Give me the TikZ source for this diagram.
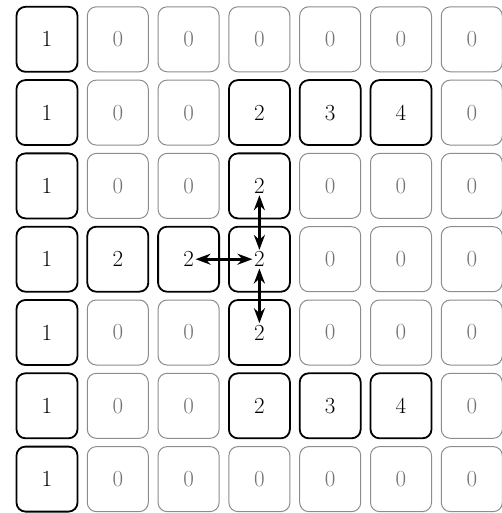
\documentclass[tikz,border=0pt]{standalone}
\usetikzlibrary{arrows.meta}
\begin{document}
\begin{tikzpicture}[x=1pt,y=-1pt,
  cellbase/.style={rounded corners=9pt, minimum width=61pt, minimum height=65pt, inner sep=0pt},
  zerocell/.style={cellbase, draw=black!45, line width=1pt},
  onecell/.style={cellbase, draw=black, line width=1.8pt},
  dig/.style={inner sep=1.5pt, font=\fontsize{23}{27}\selectfont},
  zerodig/.style={dig, text=black!55},
  onedig/.style={dig, text=black},
  link/.style={line width=3.2pt, {Stealth[length=15pt,width=11pt]}-{Stealth[length=15pt,width=11pt]}}]
\path[use as bounding box] (0,0) rectangle (502,513);
\foreach \r/\row in {0/{1,0,0,0,0,0,0},1/{1,0,0,2,3,4,0},2/{1,0,0,2,0,0,0},3/{1,2,2,2,0,0,0},4/{1,0,0,2,0,0,0},5/{1,0,0,2,3,4,0},6/{1,0,0,0,0,0,0}}{
  \foreach \v [count=\c from 0] in \row {
    \ifnum\v=0 \def\bst{zerocell}\def\tst{zerodig}\else\def\bst{onecell}\def\tst{onedig}\fi
    \node[\bst] (b\r\c) at ({47+70.8*\c},{39.3+73.3*\r}) {};
    \node[\tst] (t\r\c) at (b\r\c) {\v};
  }
}
\draw[link] (t23) -- (t33);
\draw[link] (t32) -- (t33);
\draw[link] (t33) -- (t43);
\end{tikzpicture}
\end{document}
